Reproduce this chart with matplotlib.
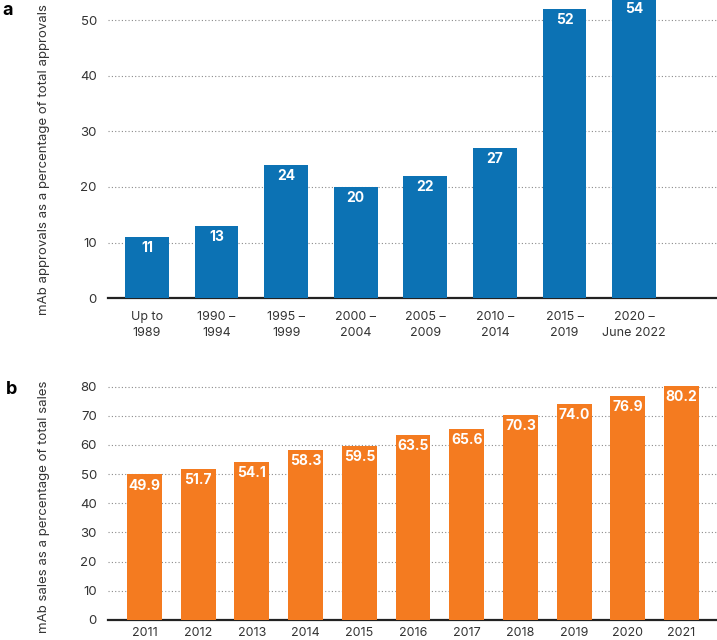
import matplotlib.pyplot as plt
import numpy as np

plt.rcParams['font.family'] = ['Inter', 'DejaVu Sans']

# panel a: mAb approvals
periods = ['Up to\n1989', '1990 –\n1994', '1995 –\n1999', '2000 –\n2004',
           '2005 –\n2009', '2010 –\n2014', '2015 –\n2019', '2020 –\nJune 2022']
approvals = [11, 13, 24, 20, 22, 27, 52, 54]

# panel b: mAb sales
years = ['2011', '2012', '2013', '2014', '2015', '2016', '2017', '2018', '2019', '2020', '2021']
sales = [49.9, 51.7, 54.1, 58.3, 59.5, 63.5, 65.6, 70.3, 74.0, 76.9, 80.2]

BLUE = '#0c72b4'
ORANGE = '#f47b20'
TEXT = '#333333'
GRID = '#8a8a8a'


def style_axis(ax, ticks, xpad):
    for s in ['top', 'right', 'left']:
        ax.spines[s].set_visible(False)
    ax.spines['bottom'].set_color('#222222')
    ax.spines['bottom'].set_linewidth(1.6)
    ax.set_yticks(ticks)
    ax.yaxis.grid(True, linestyle=(0, (1, 2)), color=GRID, linewidth=0.8)
    ax.set_axisbelow(True)
    ax.tick_params(axis='both', length=0, labelsize=9, colors=TEXT)
    ax.tick_params(axis='y', pad=8, labelsize=9.5)
    ax.tick_params(axis='x', pad=xpad)


def plot_bars(ax, labels, values, color, width, fmt):
    x = np.arange(len(values))
    bars = ax.bar(x, values, width=width, color=color, zorder=3)
    ax.set_xticks(x)
    ax.set_xticklabels(labels, linespacing=1.45)
    for b, v in zip(bars, values):
        ax.annotate(fmt.format(v), (b.get_x() + b.get_width() / 2, b.get_height()),
                    xytext=(0, -8), textcoords='offset points', ha='center', va='center',
                    color='white', fontsize=10, fontweight='bold', zorder=4,
                    annotation_clip=False)


fig = plt.figure(figsize=(7.17, 6.4), dpi=100)

ax_a = fig.add_axes([0.1506, 0.534, 0.8494, 0.466])
plot_bars(ax_a, periods, approvals, BLUE, 0.63, '{:d}')
ax_a.set_xlim(-0.56, 8.19)
ax_a.set_ylim(0, 53.6)
style_axis(ax_a, [0, 10, 20, 30, 40, 50], 9)
ax_a.set_ylabel('mAb approvals as a percentage of total approvals', fontsize=9.5, color=TEXT)
ax_a.yaxis.set_label_coords(-0.095, 0.466)
for b in ax_a.patches:
    b.set_clip_on(False)

ax_b = fig.add_axes([0.1506, 0.03125, 0.8494, 0.3693])
plot_bars(ax_b, years, sales, ORANGE, 0.65, '{:.1f}')
ax_b.set_xlim(-0.68, 10.66)
ax_b.set_ylim(0, 81)
style_axis(ax_b, [0, 10, 20, 30, 40, 50, 60, 70, 80], 5)
ax_b.set_ylabel('mAb sales as a percentage of total sales', fontsize=9.5, color=TEXT)
ax_b.yaxis.set_label_coords(-0.095, 0.48)

fig.text(0.004, 0.997, 'a', fontsize=13, fontweight='bold', va='top', ha='left')
fig.text(0.008, 0.405, 'b', fontsize=13, fontweight='bold', va='top', ha='left')

fig.savefig('out.png', dpi=100)
